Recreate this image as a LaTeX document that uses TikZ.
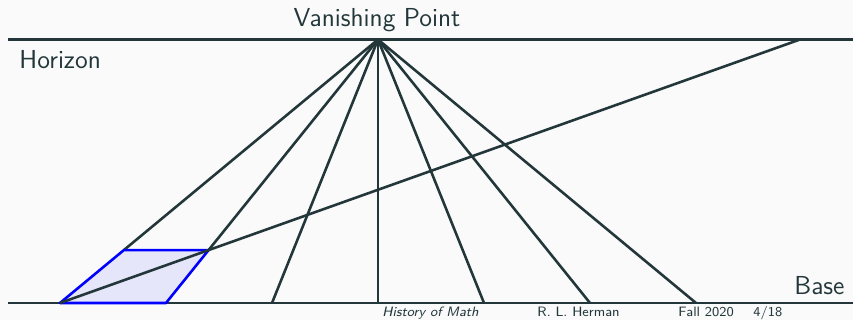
\documentclass[tikz,border=0pt]{standalone}
\usetikzlibrary{calc}
\definecolor{mDarkTeal}{HTML}{23373B}
\definecolor{bgcol}{HTML}{FAFAFA}
\definecolor{parfill}{RGB}{230,230,250}
\begin{document}
\begin{tikzpicture}[x=0.427pt,y=-0.427pt,
  line/.style={draw=mDarkTeal,line width=1.1pt},
  para/.style={draw=blue,line width=1.1pt,fill=parfill,line join=round},
  lbl/.style={text=mDarkTeal,font=\sffamily\fontsize{11.1}{13}\selectfont,inner sep=0pt},
  foot/.style={text=mDarkTeal,font=\sffamily\fontsize{5.8}{7}\selectfont,inner sep=0pt,anchor=base west}]
\fill[bgcol] (0,0) rectangle (853,320);
\useasboundingbox (0,0) rectangle (853,320);
% key points
\coordinate (VP) at (378,39.5);
\coordinate (H0) at (8,39.5);
\coordinate (H1) at (853,39.5);
\coordinate (B0) at (8,303);
\coordinate (B1) at (853,303);
\coordinate (D) at (800,39.5);
\foreach \i in {0,...,6} {\coordinate (b\i) at ({60+106*\i},303);}
\coordinate (p1) at ($(b0)!0.20076!(VP)$);
\coordinate (p2) at ($(b1)!0.20076!(VP)$);
% horizon and base
\draw[line] (H0) -- (H1);
\draw[line] (B0) -- (B1);
% lines to the tile's top corners
\draw[line] (VP) -- (p1);
\draw[line] (VP) -- (p2);
% tile
\draw[para] (b0) -- (b1) -- (p2) -- (p1) -- cycle;
% other lines to the base
\foreach \i in {2,...,6} {\draw[line] (VP) -- (b\i);}
% diagonal
\draw[line] (b0) -- (D);
% labels
\node[lbl,anchor=base] (vpl) at (377,26) {Vanishing Point};
\node[lbl,anchor=base west] (hl) at (19,68) {Horizon};
\node[lbl,anchor=base east] (bl) at (845,294) {Base};
% footer
\node[foot] (f1) at (382,316.3) {\itshape History of Math};
\node[foot] (f2) at (537,316.3) {R. L. Herman};
\node[foot] (f3) at (678,316.3) {Fall 2020};
\node[foot] (f4) at (753,316.3) {4/18};
\end{tikzpicture}
\end{document}
